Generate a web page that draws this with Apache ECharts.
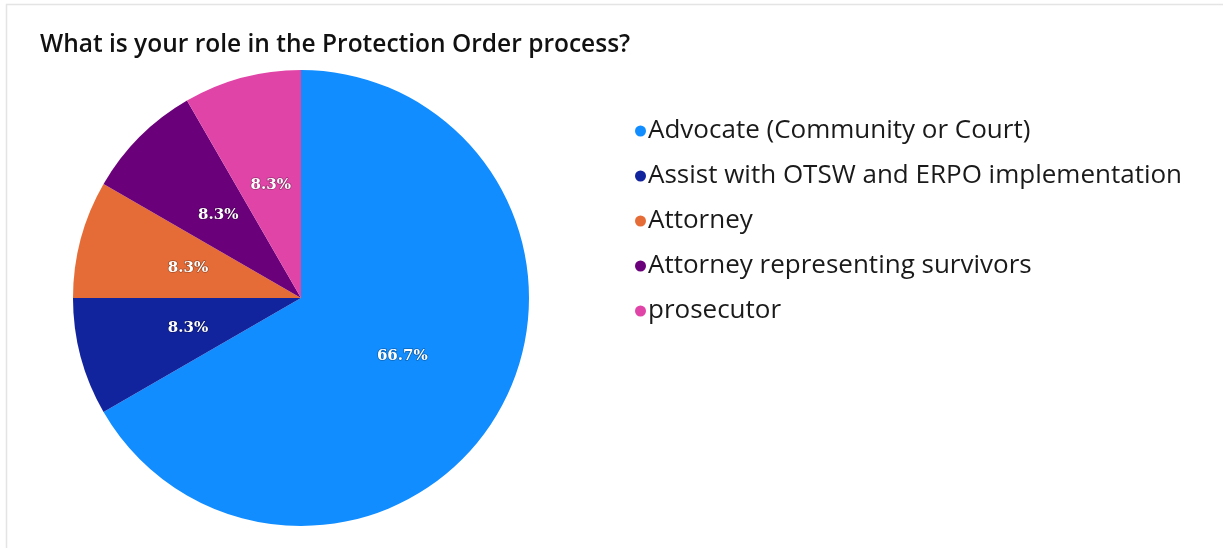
<!DOCTYPE html>
<html>
<head>
<meta charset="utf-8">
<title>Protection Order role</title>
<script src="https://cdn.jsdelivr.net/npm/echarts@6/dist/echarts.min.js"></script>
<style>
  html, body { margin: 0; padding: 0; background: #fff; }
  #mainChart { width: 1223px; height: 548px; }
</style>
</head>
<body>
<div id="mainChart"></div>
<script>
// data (12 responses)
var roles = ['Advocate (Community or Court)', 'Assist with OTSW and ERPO implementation', 'Attorney', 'Attorney representing survivors', 'prosecutor'];
var counts = [8, 1, 1, 1, 1];
var colors = ['#118DFF', '#12239E', '#E66C37', '#6B007B', '#E044A7'];

var myChart = echarts.init(document.getElementById('mainChart'));

var pieData = roles.map(function (name, i) {
    return { name: name, value: counts[i], itemStyle: { color: colors[i] } };
});

myChart.setOption({
    animation: false,
    title: {
        text: 'What is your role in the Protection Order process?',
        left: 35,
        top: 28,
        textStyle: {
            fontFamily: 'Open Sans',
            fontWeight: 600,
            fontSize: 24.5,
            color: '#111'
        }
    },
    graphic: [{
        type: 'rect',
        shape: { x: 6.5, y: 4.5, width: 1230, height: 560 },
        style: { fill: 'none', stroke: '#e4e4e4', lineWidth: 1.5 },
        silent: true
    }],
    legend: {
        orient: 'vertical',
        left: 630,
        top: 113,
        itemGap: 19,
        itemWidth: 11,
        itemHeight: 11,
        icon: 'circle',
        data: roles,
        textStyle: {
            fontFamily: 'Open Sans',
            fontSize: 26,
            lineHeight: 26,
            color: '#1a1a1a',
            padding: [0, 0, 0, -3]
        }
    },
    series: [{
        type: 'pie',
        center: [301, 298],
        radius: 228,
        startAngle: 90,
        clockwise: true,
        data: pieData,
        label: {
            position: 'inside',
            formatter: function (p) { return p.percent.toFixed(1) + '%'; },
            color: '#fff',
            fontFamily: 'DejaVu Serif',
            fontWeight: 'bold',
            fontSize: 15,
            textBorderColor: 'rgba(0,0,0,0.3)',
            textBorderWidth: 1.5
        },
        labelLine: { show: false },
        itemStyle: { borderWidth: 0 },
        emphasis: { disabled: true }
    }]
});
</script>
</body>
</html>
